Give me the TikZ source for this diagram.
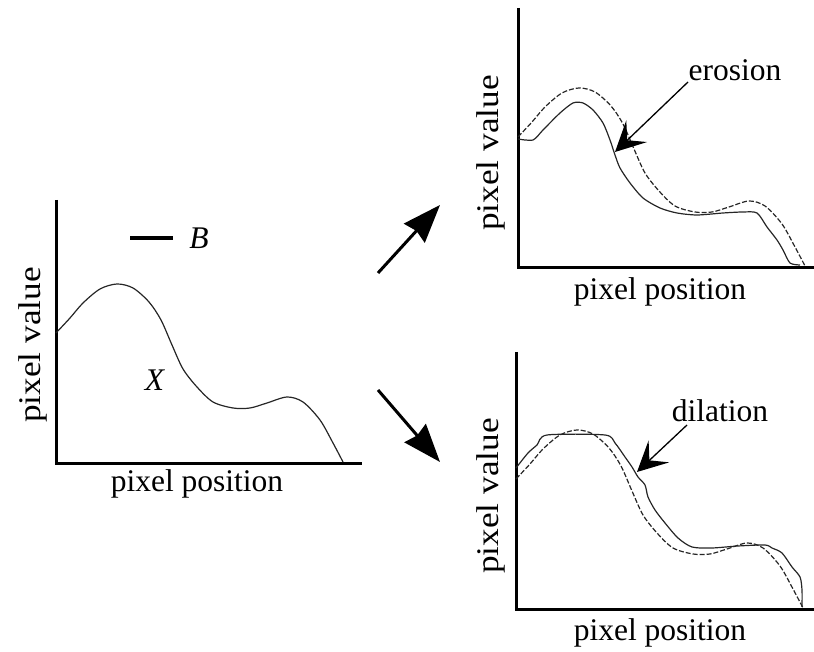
\documentclass[tikz,border=0pt]{standalone}
\usepackage{fontspec}
\usepackage{graphicx}
\setmainfont{Liberation Serif}
\usetikzlibrary{arrows.meta}
\begin{document}
\begin{tikzpicture}[x=1pt,y=1pt,
  axis/.style={line width=3pt, line join=miter},
  curve/.style={line width=1.2pt, black!85, line join=round},
  dcurve/.style={line width=1.2pt, black!85, dash pattern=on 5pt off 2pt},
  lbl/.style={font=\fontsize{31.5}{36}\selectfont, inner sep=0pt},
  bigarrow/.style={line width=3pt, -{Stealth[length=38pt,width=28pt,inset=3pt]}},
  callout/.style={line width=1.3pt, -{Stealth[length=30pt,width=30pt,inset=13pt]}}]
\useasboundingbox (0,0) rectangle (814,652);

% ---------- left plot ----------
\begin{scope}[shift={(56,188)}]
  \draw[axis] (0,264) -- (0,0) -- (306,0);
  \draw[curve] plot[smooth] coordinates {(0,131) (14,146) (27,161) (44,175) (61,180) (77,176) (93,162) (105,144) (116,119) (127,95) (141,77) (157,62) (177,56) (194,56) (211,61) (231,67) (247,62) (264,44) (277,21) (287,2)};
\end{scope}
\node[lbl, rotate=90] (yl1) at (33,307) {\scalebox{1.12}[1]{pixel value}};
\node[lbl] (xl1) at (197,168) {pixel position};
\coordinate (b1) at (130,414);
\coordinate (b2) at (173,414);
\draw[line width=3.2pt] (b1) -- (b2);
\node[lbl] (B) at (199,414) {\textit{B}};
\node[lbl] (X) at (155,272) {\textit{X}};

% ---------- top right plot (erosion) ----------
\begin{scope}[shift={(518,384)}]
  \draw[axis] (0,260) -- (0,0) -- (296,0);
  \draw[dcurve] plot[smooth] coordinates {(0,131) (14,146) (27,161) (44,175) (61,180) (77,176) (93,162) (105,144) (116,119) (127,95) (141,77) (157,62) (177,56) (194,56) (211,61) (231,67) (247,62) (264,44) (277,21) (287,2)};
  \draw[curve] plot[smooth, tension=0.45] coordinates {(0,129) (15,128) (25,138) (42,155) (55,165) (65,165) (75,158) (85,145) (92,128) (97,113) (102,100) (112,85) (125,70) (142,60) (159,55) (179,53) (205,55) (225,56) (239,55) (249,41) (259,28) (265,18) (272,5) (282,3)};
\end{scope}
\node[lbl, rotate=90] (yl2) at (491,499) {\scalebox{1.12}[1]{pixel value}};
\node[lbl] (xl2) at (660,360) {pixel position};
\node[lbl] (er) at (735,582) {erosion};
\coordinate (ea) at (688,570);
\coordinate (et) at (615,500);
\draw[callout] (ea) -- (et);

% ---------- bottom right plot (dilation) ----------
\begin{scope}[shift={(516,42)}]
  \draw[axis] (0,258) -- (0,0) -- (298,0);
  \draw[dcurve] plot[smooth] coordinates {(0,131) (14,146) (27,161) (44,175) (61,180) (77,176) (93,162) (105,144) (116,119) (127,95) (141,77) (157,62) (177,56) (194,56) (211,61) (231,67) (247,62) (264,44) (277,21) (287,2)};
  \draw[curve] plot[smooth, tension=0.45] coordinates {(0,142) (12,157) (21,165) (31,175) (89,175) (99,167) (109,153) (116,143) (122,133) (129,125) (132,113) (139,100) (149,87) (162,72) (176,63) (196,62) (222,64) (249,65) (256,62) (266,57) (276,43) (284,33) (286,20) (286,3)};
\end{scope}
\node[lbl, rotate=90] (yl3) at (491,156) {\scalebox{1.12}[1]{pixel value}};
\node[lbl] (xl3) at (660,19) {pixel position};
\node[lbl] (di) at (720,241) {dilation};
\coordinate (da) at (687,227);
\coordinate (dt) at (637,180);
\draw[callout] (da) -- (dt);

% ---------- big arrows ----------
\coordinate (u1) at (378,379);
\coordinate (u2) at (440,447);
\coordinate (l1) at (378,262);
\coordinate (l2) at (440,190);
\draw[bigarrow] (u1) -- (u2);
\draw[bigarrow] (l1) -- (l2);
\end{tikzpicture}
\end{document}
